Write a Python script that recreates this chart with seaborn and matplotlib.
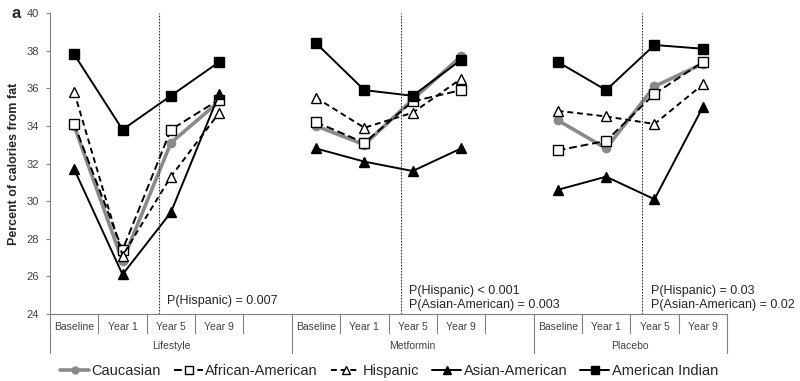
#!/usr/bin/env python3
# coding=utf-8
import matplotlib
matplotlib.use('Agg')
import matplotlib.pyplot as plt
from matplotlib.lines import Line2D
import seaborn as sns
import pandas as pd
import numpy as np

groups = ['Lifestyle', 'Metformin', 'Placebo']
timepoints = ['Baseline', 'Year 1', 'Year 5', 'Year 9']
ethnicities = ['Caucasian', 'African-American', 'Hispanic', 'Asian-American', 'American Indian']

# values per group: Baseline, Year 1, Year 5, Year 9
caucasian = {'Lifestyle': [34.0, 26.8, 33.1, 35.3],
             'Metformin': [34.0, 33.0, 35.4, 37.7],
             'Placebo': [34.3, 32.8, 36.1, 37.3]}
african_american = {'Lifestyle': [34.1, 27.4, 33.8, 35.4],
                    'Metformin': [34.2, 33.1, 35.3, 35.9],
                    'Placebo': [32.7, 33.2, 35.7, 37.4]}
hispanic = {'Lifestyle': [35.8, 27.1, 31.3, 34.7],
            'Metformin': [35.5, 33.9, 34.7, 36.5],
            'Placebo': [34.8, 34.5, 34.1, 36.2]}
asian_american = {'Lifestyle': [31.7, 26.1, 29.4, 35.7],
                  'Metformin': [32.8, 32.1, 31.6, 32.8],
                  'Placebo': [30.6, 31.3, 30.1, 35.0]}
american_indian = {'Lifestyle': [37.8, 33.8, 35.6, 37.4],
                   'Metformin': [38.4, 35.9, 35.6, 37.5],
                   'Placebo': [37.4, 35.9, 38.3, 38.1]}

p_values = {'Lifestyle': 'P(Hispanic) = 0.007',
            'Metformin': 'P(Hispanic) < 0.001\nP(Asian-American) = 0.003',
            'Placebo': 'P(Hispanic) = 0.03\nP(Asian-American) = 0.02'}

series = dict(zip(ethnicities, [caucasian, african_american, hispanic, asian_american, american_indian]))

# slot layout: 4 timepoints + 1 blank slot per group (none after placebo)
group_start = {'Lifestyle': 0, 'Metformin': 5, 'Placebo': 10}
n_slots = 14

rows = []
for eth in ethnicities:
    for g in groups:
        for i, tp in enumerate(timepoints):
            rows.append(dict(eth=eth, group=g, tp=tp, pos=group_start[g] + i, value=series[eth][g][i]))
df = pd.DataFrame(rows)

styles = {
    'Caucasian': dict(color='#8a8a8a', lw=2.6, ls='-', marker='o', mfc='#8a8a8a', mec='#8a8a8a', ms=6),
    'African-American': dict(color='black', lw=1.4, ls=(0, (4, 2)), marker='s', mfc='white', mec='black', ms=7),
    'Hispanic': dict(color='black', lw=1.4, ls=(0, (3, 2)), marker='^', mfc='white', mec='black', ms=7),
    'Asian-American': dict(color='black', lw=1.4, ls='-', marker='^', mfc='black', mec='black', ms=6.5),
    'American Indian': dict(color='black', lw=1.4, ls='-', marker='s', mfc='black', mec='black', ms=6.5),
}

sns.set_style('white')
plt.rcParams['font.family'] = ['Liberation Sans', 'DejaVu Sans']

fig = plt.figure(figsize=(8, 3.81), dpi=100)
ax = fig.add_axes([50 / 800, 67 / 381, 677 / 800, 301 / 381])

for eth in ethnicities:
    st = styles[eth]
    sub = df[df.eth == eth]
    sns.lineplot(data=sub, x='pos', y='value', units='group', estimator=None, ax=ax,
                 color=st['color'], linewidth=st['lw'], linestyle=st['ls'],
                 marker=st['marker'], markerfacecolor=st['mfc'], markeredgecolor=st['mec'],
                 markeredgewidth=1.0, markersize=st['ms'], legend=False, sort=False)

ax.set_xlim(-0.5, n_slots - 0.5)
ax.set_ylim(24, 40)
ax.set_yticks(np.arange(24, 41, 2))
ax.tick_params(axis='y', labelsize=8, labelcolor='#404040', direction='out', length=3, width=0.8,
               color='#808080', left=True, pad=5)
ax.set_xticks([])
ax.set_xlabel('')
ax.set_ylabel('Percent of calories from fat', fontsize=9, fontweight='bold')
ax.yaxis.set_label_coords(-0.044, 0.5)
for s in ['top', 'right']:
    ax.spines[s].set_visible(False)
for s in ['left', 'bottom']:
    ax.spines[s].set_color('#808080')
    ax.spines[s].set_linewidth(0.8)

# vertical dotted lines just before Year 5
for g in groups:
    ax.axvline(group_start[g] + 1.75, color='#333333', lw=0.8, ls=(0, (1.5, 1.2)))

# p-value annotations
ax.text(group_start['Lifestyle'] + 1.92, 24.7, p_values['Lifestyle'], fontsize=9, va='center', ha='left')
ax.text(group_start['Metformin'] + 1.92, 24.85, p_values['Metformin'], fontsize=9, va='center', ha='left',
        linespacing=1.2)
ax.text(group_start['Placebo'] + 1.92, 24.85, p_values['Placebo'], fontsize=9, va='center', ha='left',
        linespacing=1.2)

# category table below axis
trans = ax.get_xaxis_transform()
short_y, long_y = -0.063, -0.130
long_edges = [-0.5, 4.5, 9.5, n_slots - 0.5]
for k in range(n_slots + 1):
    xe = k - 0.5
    y1 = long_y if xe in long_edges else short_y
    ax.plot([xe, xe], [0, y1], transform=trans, color='#808080', lw=0.8, clip_on=False)
for g in groups:
    for i, tp in enumerate(timepoints):
        ax.text(group_start[g] + i, -0.042, tp, transform=trans, ha='center', va='center',
                fontsize=7.5, color='#404040')
    end = group_start[g] + 4.5 if g != 'Placebo' else n_slots - 0.5
    ax.text((group_start[g] - 0.5 + end) / 2, -0.105, g, transform=trans, ha='center', va='center',
            fontsize=7.5, color='#404040')

fig.text(12 / 800, 1 - 13 / 381, 'a', fontsize=12, fontweight='bold', ha='left', va='center')

handles = []
for eth in ethnicities:
    st = styles[eth]
    handles.append(Line2D([0], [0], color=st['color'], lw=st['lw'], ls=st['ls'], marker=st['marker'],
                          markerfacecolor=st['mfc'], markeredgecolor=st['mec'], markersize=st['ms'] - 1))
fig.legend(handles, ethnicities, loc='center', bbox_to_anchor=(389 / 800, 1 - 371 / 381), ncol=5,
           frameon=False, fontsize=10.5, handlelength=2.0, handletextpad=0.15, columnspacing=0.9)

fig.savefig('out.png', dpi=100)
